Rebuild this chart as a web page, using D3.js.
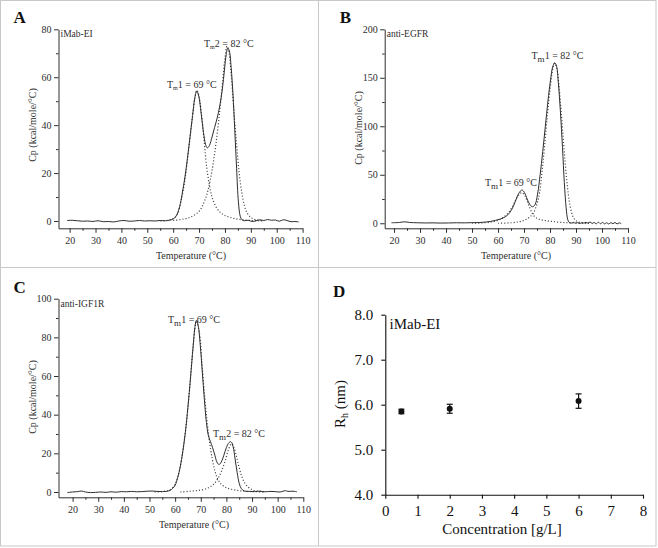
<!DOCTYPE html>
<html>
<head>
<meta charset="utf-8">
<script src="https://cdn.jsdelivr.net/npm/d3@7"></script>
<style>
  body { margin: 0; background: #fff; }
  svg { font-family: "Liberation Serif", "Times New Roman", serif; }
</style>
</head>
<body>
<div id="chart"></div>
<script>
// ---- data ----
// A: iMab-EI
var aSolid = [[19,0.2],[21,0.3],[23,0.1],[25,-0.1],[27,0.0],[29,-0.2],[31,0.1],[33,-0.3],[35,-0.2],[37,-0.4],[39,0.0],[41,0.2],[43,-0.1],[45,0.0],[47,0.2],[49,0.0],[51,0.1],[53,0.0],[55,0.2],[57,0.1],[58.5,0.3],[59.5,0.6],[60.5,1.2],[61.5,2.8],[62.5,6],[63.5,11.5],[64.5,18],[65.5,26],[66.5,35],[67.5,44],[68.3,51],[69.1,54.3],[69.9,52],[70.8,45],[71.7,37],[72.5,32],[73.2,30.5],[74,31.5],[75,35],[76,39],[77,43],[78,48],[79,55],[79.8,63],[80.5,69.5],[81.1,72.2],[81.7,71],[82.4,64],[83.1,53],[83.8,38],[84.5,22],[85.2,8],[85.9,2],[86.6,0.5],[87.5,0.1],[89,0.3],[90.5,-0.2],[92,0.1],[93.5,0.5],[95,0.2],[96.5,0.6],[98,0.3],[99.5,0.4],[101,-0.1],[102.5,0.5],[104,0.2],[105.5,-0.3],[107,-0.2],[108.5,-0.4]];
var aFit1 = [[55,0],[58,0.3],[60,1],[61.5,2.5],[63,8],[64.5,17],[66,30],[67.5,44],[68.5,52],[69.2,54.5],[70,52],[71,44],[72,33],[73,22],[74,15],[75,10],[76.5,6],[78,3.8],[80,2.3],[83,1.2],[86,0.6],[90,0.2],[95,0.05]];
var aFit2 = [[60,0.2],[64,0.8],[67,1.8],[70,4],[72,8],[73.5,13],[75,21],[76.5,32],[78,46],[79,57],[80,68],[80.8,73],[81.6,70],[82.5,60],[83.5,45],[84.5,32],[85.5,20],[86.5,12],[87.5,6.5],[88.5,3.5],[90,1.5],[92,0.5],[95,0.1]];

// B: anti-EGFR
var bSolid = [[19,0.5],[22,0.8],[24,1.5],[26,0.8],[29,0.5],[32,0.3],[35,0.4],[38,0.2],[41,0.3],[44,0.5],[47,0.4],[50,0.6],[53,0.8],[55,1.2],[57,1.8],[59,3],[61,4.5],[63,7],[64.5,11],[65.8,17],[67,25],[68,31],[69.2,34.3],[70.2,31.5],[71.2,25],[72.2,19.5],[73.2,17],[74.2,19],[75.2,30],[76.2,50],[77.2,74],[78.2,100],[79.2,126],[80.2,148],[81,161],[81.8,165.5],[82.5,162],[83.2,145],[84,115],[84.8,78],[85.5,42],[86.2,16],[86.8,4],[87.4,0.8],[88.2,0.2],[89,0.9],[89.8,0.1],[90.6,0.7],[91.4,-0.3],[92.2,0.6],[93,0.2],[93.8,1.0],[94.6,0.1],[95.4,1.3],[96.2,-0.2],[97,0.8],[97.8,-0.6],[98.6,1.1],[99.4,-0.5],[100.2,0.9],[101,-0.7],[101.8,0.6],[102.6,-0.8],[103.4,0.7],[104.2,-0.5],[105,0.8],[105.8,-0.7],[106.6,0.4],[107.4,-0.4]];
var bFit1 = [[50,0],[55,0.5],[58,1.5],[60,3],[62,6],[64,11],[65.5,17],[67,25],[68.2,30],[69.2,31.5],[70.2,29],[71.2,23],[72.2,16],[73.2,10],[74.2,6.5],[75.5,4.5],[77,3.3],[79,2.5],[81,1.8],[84,1],[87,0.5],[90,0.2],[95,0]];
var bFit2 = [[60,0],[65,0.5],[68,1.5],[70,3],[72,6],[73.5,10],[75,20],[76,32],[77,55],[78,82],[79,112],[80,138],[81,158],[81.8,165],[82.6,160],[83.4,143],[84.2,118],[85,90],[85.8,63],[86.6,40],[87.4,23],[88.2,12],[89,6],[90,2.5],[92,0.5],[95,0]];

// C: anti-IGF1R
var cSolid = [[18,-0.3],[20,0],[22,0.2],[23.5,0.5],[25,0],[27,-0.3],[29,-0.2],[31,0],[33,-0.2],[35,0.1],[37,-0.1],[39,0.2],[41,0.1],[43,0.3],[45,0.1],[47,0.2],[49,0.4],[51,0.5],[53,0.3],[55,0.2],[57,0.4],[58,0.8],[59,1.8],[60,3.5],[61,7.5],[62,13],[63,21],[64,31],[65,44],[66,59],[67,75],[67.7,85],[68.3,88.8],[69,86],[69.8,76],[70.6,62],[71.4,48],[72.2,36],[73,29],[73.8,26],[74.6,23],[75.5,19],[76.3,15.5],[77.1,14.2],[78,15.5],[79,19],[80,23],[81,25.5],[81.8,26],[82.6,23.5],[83.4,17],[84.2,10],[85,4.5],[85.8,1.8],[87,0.5],[89,0.3],[91,0.2],[93,0.4],[95,0.1],[97,0.3],[99,0.2],[101,0],[103,0.7],[104,0.3],[106,0.4],[107.5,0.1]];
var cFit1 = [[52,0],[56,0.4],[58,1.2],[59.5,3],[61,7.5],[62.5,17],[64,31],[65.5,51],[67,75],[68.3,88.5],[69.5,82],[70.5,66],[71.5,50],[72.5,36],[73.5,25],[74.5,17],[75.5,11],[76.5,7],[78,4],[80,2.2],[83,1.1],[86,0.5],[90,0.2],[95,0]];
var cFit2 = [[62,0],[66,0.4],[70,1],[73,2.2],[75,4],[76.5,6.5],[78,10.5],[79.5,16],[80.8,22],[82,25],[83,23],[84,18],[85,12.5],[86,8],[87,5],[88.5,2.5],[90,1.2],[92,0.5],[95,0.1]];

// D: hydrodynamic radius vs concentration
var dConc = [0.5, 2, 6];
var dRh = [5.85, 5.91, 6.08];
var dErr = [0.05, 0.10, 0.16];

var tempTicks = [20, 30, 40, 50, 60, 70, 80, 90, 100, 110];

var W = 658, H = 548;
var ink = "#2e2e2e";

var svg = d3.select("#chart").append("svg")
  .attr("width", W)
  .attr("height", H);

// panel frame
svg.append("rect")
  .attr("x", 0.5).attr("y", 0.5)
  .attr("width", 655.5).attr("height", 545.5)
  .attr("fill", "none").attr("stroke", "#c8c8c8");
svg.append("line").attr("x1", 318.5).attr("x2", 318.5).attr("y1", 0).attr("y2", 546)
  .attr("stroke", "#c8c8c8");
svg.append("line").attr("x1", 0).attr("x2", 656).attr("y1", 267.5).attr("y2", 267.5)
  .attr("stroke", "#c8c8c8");

function dscPanel(p) {
  var x = d3.scaleLinear().domain(p.xDom).range([p.left, p.right]);
  var y = d3.scaleLinear().domain(p.yDom).range([p.bottom, p.top]);
  var g = svg.append("g");

  // minor ticks
  var xMinor = d3.range(25, 110, 10);
  g.append("g").attr("transform", "translate(0," + p.bottom + ")")
    .call(d3.axisBottom(x).tickValues(xMinor).tickSize(2.5).tickFormat(""))
    .call(function(s) { s.select(".domain").remove(); });
  g.append("g").attr("transform", "translate(" + p.left + ",0)")
    .call(d3.axisLeft(y).tickValues(p.yMinor).tickSize(2.5).tickFormat(""))
    .call(function(s) { s.select(".domain").remove(); });

  var xa = g.append("g").attr("transform", "translate(0," + p.bottom + ")")
    .call(d3.axisBottom(x).tickValues(tempTicks).tickSize(4.5).tickSizeOuter(0).tickPadding(4));
  var ya = g.append("g").attr("transform", "translate(" + p.left + ",0)")
    .call(d3.axisLeft(y).tickValues(p.yTicks).tickSize(4.5).tickSizeOuter(0).tickPadding(2.5));
  g.selectAll(".tick line, .domain").attr("stroke", ink);
  [xa, ya].forEach(function(a) {
    a.selectAll("text").attr("font-family", "Liberation Serif").attr("font-size", 10).attr("fill", ink);
  });

  var line = d3.line()
    .x(function(d) { return x(d[0]); })
    .y(function(d) { return y(d[1]); })
    .curve(d3.curveCatmullRom);

  [p.fit1, p.fit2].forEach(function(f) {
    g.append("path").datum(f).attr("d", line)
      .attr("fill", "none").attr("stroke", "#444")
      .attr("stroke-width", 1.2).attr("stroke-dasharray", "1.1,2");
  });
  g.append("path").datum(p.solid).attr("d", line)
    .attr("fill", "none").attr("stroke", ink).attr("stroke-width", 1);

  // titles
  g.append("text").attr("x", p.xTitle).attr("y", p.bottom + 30.5)
    .attr("text-anchor", "middle").attr("font-size", 10).attr("fill", ink)
    .text("Temperature (°C)");
  g.append("text")
    .attr("transform", "translate(" + (p.left - 23) + "," + p.yTitle + ") rotate(-90)")
    .attr("text-anchor", "middle").attr("font-size", 10).attr("fill", ink)
    .text("Cp (kcal/mole/°C)");

  g.append("text").attr("x", p.left - 45).attr("y", p.top - 6)
    .attr("font-size", 17).attr("font-weight", "bold").attr("fill", "#111")
    .text(p.letter);
  g.append("text").attr("x", p.left + 2).attr("y", p.top + 8)
    .attr("font-size", 9.5).attr("fill", ink).text(p.name);

  p.peaks.forEach(function(k) {
    var t = g.append("text").attr("x", k.x).attr("y", k.y)
      .attr("font-size", 10).attr("fill", ink);
    t.append("tspan").text("T");
    t.append("tspan").attr("font-size", p.subSize).attr("dy", p.subDy).text("m");
    t.append("tspan").attr("dy", -p.subDy).text(k.label);
  });
}

dscPanel({
  letter: "A", name: "iMab-EI",
  left: 58.5, right: 302.6, top: 29.3, bottom: 228.3,
  xDom: [15.7, 110], yDom: [-3.05, 80],
  yTicks: [0, 20, 40, 60, 80], yMinor: [10, 30, 50, 70],
  solid: aSolid, fit1: aFit1, fit2: aFit2, yTitle: 125, xTitle: 191,
  subSize: 6, subDy: 2,
  peaks: [{x: 167, y: 88, label: "1 = 69 °C"}, {x: 204, y: 46.5, label: "2 = 82 °C"}]
});

dscPanel({
  letter: "B", name: "anti-EGFR",
  left: 384.7, right: 628, top: 29.3, bottom: 228.3,
  xDom: [16.4, 110], yDom: [-5.2, 200],
  yTicks: [0, 50, 100, 150, 200], yMinor: [25, 75, 125, 175],
  solid: bSolid, fit1: bFit1, fit2: bFit2, yTitle: 128, xTitle: 516,
  subSize: 9, subDy: 3,
  peaks: [{x: 485, y: 185.5, label: "1 = 69 °C"}, {x: 531.5, y: 59, label: "1 = 82 °C"}]
});

dscPanel({
  letter: "C", name: "anti-IGF1R",
  left: 58.5, right: 303.3, top: 298.7, bottom: 497.3,
  xDom: [14.5, 110], yDom: [-2.75, 100],
  yTicks: [0, 20, 40, 60, 80, 100], yMinor: [10, 30, 50, 70, 90],
  solid: cSolid, fit1: cFit1, fit2: cFit2, yTitle: 397, xTitle: 194,
  subSize: 9, subDy: 3,
  peaks: [{x: 168, y: 322.5, label: "1 = 69 °C"}, {x: 213, y: 436.5, label: "2 = 82 °C"}]
});

// ---- panel D ----
(function() {
  var left = 385.3, right = 643, top = 314.7, bottom = 494.7;
  var x = d3.scaleLinear().domain([0, 8]).range([left, right]);
  var y = d3.scaleLinear().domain([4, 8]).range([bottom, top]);
  var g = svg.append("g");
  var dk = "#111";

  var xa = g.append("g").attr("transform", "translate(0," + bottom + ")")
    .call(d3.axisBottom(x).ticks(8).tickSize(4).tickSizeOuter(0).tickPadding(6.5));
  var ya = g.append("g").attr("transform", "translate(" + left + ",0)")
    .call(d3.axisLeft(y).ticks(4).tickFormat(d3.format(".1f")).tickSize(4).tickSizeOuter(0).tickPadding(8));
  g.selectAll(".tick line, .domain").attr("stroke", dk).attr("stroke-width", 1.1);
  [xa, ya].forEach(function(a) {
    a.selectAll("text").attr("font-family", "Liberation Serif").attr("font-size", 15).attr("fill", dk);
  });

  g.selectAll("line.err").data(dConc).enter().append("line").attr("class", "err")
    .attr("x1", function(d) { return x(d); }).attr("x2", function(d) { return x(d); })
    .attr("y1", function(d, i) { return y(dRh[i] - dErr[i]); })
    .attr("y2", function(d, i) { return y(dRh[i] + dErr[i]); })
    .attr("stroke", dk).attr("stroke-width", 1.2);
  [-1, 1].forEach(function(s) {
    g.selectAll("line.cap" + s).data(dConc).enter().append("line")
      .attr("x1", function(d) { return x(d) - 3; }).attr("x2", function(d) { return x(d) + 3; })
      .attr("y1", function(d, i) { return y(dRh[i] + s * dErr[i]); })
      .attr("y2", function(d, i) { return y(dRh[i] + s * dErr[i]); })
      .attr("stroke", dk).attr("stroke-width", 1.2);
  });
  g.selectAll("circle").data(dConc).enter().append("circle")
    .attr("cx", function(d) { return x(d); })
    .attr("cy", function(d, i) { return y(dRh[i]); })
    .attr("r", 3).attr("fill", dk);

  g.append("text").attr("x", 502).attr("y", 534)
    .attr("text-anchor", "middle").attr("font-size", 15).attr("fill", dk)
    .text("Concentration [g/L]");
  var yt = g.append("text")
    .attr("transform", "translate(345," + 404 + ") rotate(-90)")
    .attr("text-anchor", "middle").attr("font-size", 15).attr("fill", dk);
  yt.append("tspan").text("R");
  yt.append("tspan").attr("font-size", 10).attr("dy", 3).text("h");
  yt.append("tspan").attr("dy", -3).text(" (nm)");

  g.append("text").attr("x", 333).attr("y", 297)
    .attr("font-size", 17).attr("font-weight", "bold").attr("fill", dk).text("D");
  g.append("text").attr("x", 389.5).attr("y", 329)
    .attr("font-size", 15).attr("fill", dk).text("iMab-EI");
})();
</script>
</body>
</html>
